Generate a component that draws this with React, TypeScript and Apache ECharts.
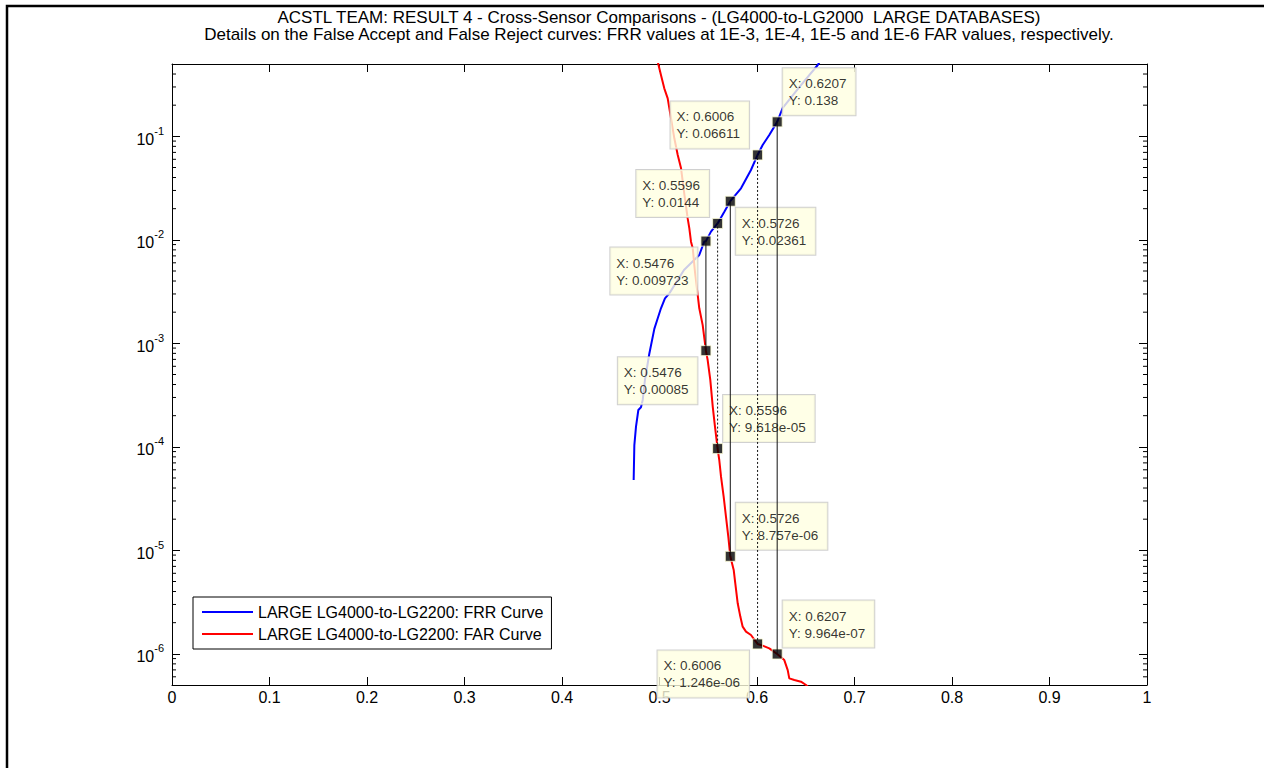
import { useEffect, useRef } from 'react';
import * as echarts from 'echarts';

const titleLines = [
  'ACSTL TEAM: RESULT 4 - Cross-Sensor Comparisons - (LG4000-to-LG2000  LARGE DATABASES)',
  'Details on the False Accept and False Reject curves: FRR values at 1E-3, 1E-4, 1E-5 and 1E-6 FAR values, respectively.',
];
const seriesNames = ['LARGE LG4000-to-LG2200: FRR Curve', 'LARGE LG4000-to-LG2200: FAR Curve'];

const xMin = 0;
const xMax = 1;
const xStep = 0.1;
const yMin = 5e-7;
const yMax = 0.5;

// FRR curve (blue)
const frrX = [0.4735, 0.4742, 0.4759, 0.4783, 0.481, 0.4828, 0.4851, 0.4895, 0.4947, 0.4982, 0.5015, 0.5056, 0.5101, 0.5251, 0.5408, 0.5459, 0.5476, 0.5528, 0.5596, 0.5665, 0.5726, 0.5836, 0.5938, 0.6006, 0.6058, 0.6126, 0.6207, 0.6264, 0.6451, 0.6623, 0.6656];
const frrY = [4.79e-5, 1.04e-4, 1.57e-4, 2.27e-4, 2.41e-4, 2.84e-4, 4.43e-4, 7.89e-4, 1.38e-3, 1.75e-3, 2.18e-3, 2.72e-3, 3.04e-3, 5.11e-3, 7.14e-3, 9.6e-3, 0.009723, 0.012, 0.0144, 0.0187, 0.02361, 0.0315, 0.0473, 0.06611, 0.0824, 0.103, 0.138, 0.188, 0.313, 0.489, 0.55];

// FAR curve (red)
const farX = [0.4979, 0.4988, 0.5015, 0.5049, 0.5084, 0.5118, 0.5152, 0.5187, 0.5221, 0.5256, 0.5289, 0.5306, 0.5323, 0.5341, 0.5364, 0.5392, 0.5408, 0.5443, 0.5476, 0.5494, 0.5521, 0.5546, 0.5569, 0.5596, 0.5613, 0.5631, 0.5658, 0.5682, 0.5706, 0.5726, 0.5761, 0.5777, 0.5802, 0.5829, 0.5853, 0.5887, 0.5938, 0.6006, 0.6058, 0.6126, 0.6207, 0.628, 0.6315, 0.6331, 0.6383, 0.6451, 0.6503, 0.6533];
const farY = [0.547, 0.497, 0.392, 0.291, 0.233, 0.149, 0.0957, 0.066, 0.0491, 0.0271, 0.0161, 0.01293, 0.0096, 0.00828, 0.00489, 0.00293, 0.00218, 0.0015, 0.00085, 6.9e-4, 4.43e-4, 2.45e-4, 1.57e-4, 9.618e-5, 7.46e-5, 5.15e-5, 3.3e-5, 2.11e-5, 1.35e-5, 8.757e-6, 6.46e-6, 4.81e-6, 3.08e-6, 2.29e-6, 1.83e-6, 1.64e-6, 1.52e-6, 1.246e-6, 1.2e-6, 1.13e-6, 9.964e-7, 8.7e-7, 6.97e-7, 5.79e-7, 5.58e-7, 5.38e-7, 5.0e-7, 4.7e-7];

// Data tips: thresholds with FRR and FAR values
const tipX = [0.5476, 0.5596, 0.5726, 0.6006, 0.6207];
const tipFRR = [0.009723, 0.0144, 0.02361, 0.06611, 0.138];
const tipFAR = [0.00085, 9.618e-5, 8.757e-6, 1.246e-6, 9.964e-7];

const FONT = '"Liberation Sans", Arial, Helvetica, sans-serif';

function fmtG(v: number): string {
  const e = Math.floor(Math.log10(Math.abs(v)) + 1e-12);
  const trim = (s: string) => (s.indexOf('.') >= 0 ? s.replace(/0+$/, '').replace(/\.$/, '') : s);
  if (e < -4 || e >= 5) {
    const m = trim((v / Math.pow(10, e)).toFixed(3));
    const ae = Math.abs(e);
    return `${m}e${e < 0 ? '-' : '+'}${ae < 10 ? '0' + ae : ae}`;
  }
  return trim(v.toPrecision(4));
}

export default function App() {
  const ref = useRef<HTMLDivElement>(null);
  useEffect(() => {
    if (!ref.current) return;
    const chart = echarts.init(ref.current, null, { renderer: 'svg' });

    const frrData = frrX.map((x, i) => [x, frrY[i]]);
    const farData = farX.map((x, i) => [x, farY[i]]);

    const minorVals: number[] = [];
    for (let e = -7; e <= 0; e++) {
      for (let k = 2; k <= 9; k++) {
        const v = k * Math.pow(10, e);
        if (v > yMin * 1.0001 && v < yMax * 0.9999) minorVals.push(v);
      }
    }

    const frrCorner = ['ll', 'ul', 'lr', 'ul', 'ur'];
    const farCorner = ['ll', 'ur', 'ur', 'll', 'ur'];
    const cornerLabel = (c: string) => {
      if (c === 'ur') return { position: [11, -1], align: 'left', verticalAlign: 'bottom' };
      if (c === 'ul') return { position: [-3, -1], align: 'right', verticalAlign: 'bottom' };
      if (c === 'lr') return { position: [11, 12], align: 'left', verticalAlign: 'top' };
      return { position: [-3, 12], align: 'right', verticalAlign: 'top' };
    };
    const tipText = (x: number, y: number) => `{t|X: ${fmtG(x)}}\n{t|Y: ${fmtG(y)}}`;
    const tipData: any[] = [];
    tipX.forEach((x, i) => {
      tipData.push({
        value: [x, tipFRR[i]],
        label: { ...cornerLabel(frrCorner[i]), formatter: tipText(x, tipFRR[i]) },
      });
      tipData.push({
        value: [x, tipFAR[i]],
        label: { ...cornerLabel(farCorner[i]), formatter: tipText(x, tipFAR[i]) },
      });
    });

    const linkTypes: any[] = ['solid', [2, 2], 'solid', [2, 2], 'solid'];
    const linkSeries = tipX.map((x, i) => ({
      type: 'line',
      name: 'link' + i,
      data: [[x, tipFAR[i]], [x, tipFRR[i]]],
      showSymbol: false,
      silent: true,
      z: 4,
      lineStyle: { color: '#111', width: 1, type: linkTypes[i] },
    }));

    const axisCommonX = {
      type: 'value',
      min: xMin,
      max: xMax,
      interval: xStep,
      axisLine: { onZero: false, lineStyle: { color: '#000', width: 1 } },
      axisTick: { inside: true, length: 8, lineStyle: { color: '#000', width: 1 } },
      splitLine: { show: false },
    };
    const axisCommonY = {
      type: 'log',
      logBase: 10,
      min: yMin,
      max: yMax,
      axisLine: { onZero: false, lineStyle: { color: '#000', width: 1 } },
      axisTick: { inside: true, length: 8, lineStyle: { color: '#000', width: 1 } },
      splitLine: { show: false },
      minorTick: { show: false },
    };

    chart.setOption({
      animation: false,
      backgroundColor: '#fff',
      grid: { left: 172, right: 117, top: 64, bottom: 83, containLabel: false },
      graphic: [
        {
          type: 'rect',
          shape: { x: 7, y: 6, width: 1400, height: 1000 },
          style: { fill: 'none', stroke: '#000', lineWidth: 2.5 },
          silent: true,
        },
        {
          type: 'text',
          x: 659,
          y: 9,
          style: {
            text: titleLines.join('\n'),
            fill: '#000',
            font: `17px ${FONT}`,
            textAlign: 'center',
            textVerticalAlign: 'top',
            lineHeight: 17,
          },
          silent: true,
        },
      ],
      legend: {
        data: seriesNames.map((n) => ({ name: n, icon: 'rect' })),
        orient: 'vertical',
        left: 193,
        top: 597,
        itemWidth: 51,
        itemHeight: 2,
        itemGap: 4,
        padding: [6, 8, 6, 9],
        borderColor: '#000',
        borderWidth: 1,
        borderRadius: 0,
        backgroundColor: '#fff',
        selectedMode: false,
        textStyle: { fontSize: 16, color: '#000', fontFamily: FONT, lineHeight: 18 },
      },
      xAxis: [
        {
          ...axisCommonX,
          position: 'bottom',
          axisLabel: { color: '#000', fontSize: 16, fontFamily: FONT, margin: 4 },
        },
        {
          ...axisCommonX,
          position: 'top',
          axisLabel: { show: false },
        },
      ],
      yAxis: [
        {
          ...axisCommonY,
          position: 'left',
          axisLabel: {
            margin: 8,
            formatter: (v: number) => {
              const e = Math.log10(v);
              const r = Math.round(e);
              if (Math.abs(e - r) > 1e-6) return '';
              return `{b|10}{s|${r}}`;
            },
            rich: {
              b: { fontSize: 16, fontFamily: FONT, color: '#000', lineHeight: 18, padding: [6, 0, 0, 0] },
              s: { fontSize: 11, fontFamily: FONT, color: '#000', lineHeight: 13, padding: [0, 0, 11, 0] },
            },
          },
        },
        {
          ...axisCommonY,
          position: 'right',
          axisLabel: { show: false },
        },
      ],
      series: [
        {
          type: 'custom',
          name: 'minorTicks',
          silent: true,
          z: 1,
          xAxisIndex: 0,
          yAxisIndex: 0,
          data: minorVals.map((v) => [0, v]),
          renderItem: (params: any, api: any) => {
            const y = api.coord([0, api.value(1)])[1];
            const cs = params.coordSys;
            return {
              type: 'group',
              children: [
                { type: 'line', shape: { x1: cs.x, y1: y, x2: cs.x + 4, y2: y }, style: { stroke: '#000', lineWidth: 1 } },
                { type: 'line', shape: { x1: cs.x + cs.width - 4, y1: y, x2: cs.x + cs.width, y2: y }, style: { stroke: '#000', lineWidth: 1 } },
              ],
            };
          },
        },
        {
          type: 'line',
          name: seriesNames[0],
          data: frrData,
          showSymbol: false,
          silent: true,
          z: 2,
          color: '#0000ff',
          lineStyle: { color: '#0000ff', width: 2 },
        },
        {
          type: 'line',
          name: seriesNames[1],
          data: farData,
          showSymbol: false,
          silent: true,
          z: 2,
          color: '#ff0000',
          lineStyle: { color: '#ff0000', width: 2 },
        },
        {
          type: 'scatter',
          name: 'tips',
          data: tipData,
          symbol: 'rect',
          symbolSize: 10,
          silent: true,
          z: 3,
          itemStyle: { color: '#000', borderColor: '#ffffd8', borderWidth: 1 },
          label: {
            show: true,
            color: '#000',
            fontSize: 13.5,
            fontFamily: FONT,
            lineHeight: 17,
            backgroundColor: '#ffffe1',
            borderColor: '#c4c4c4',
            borderWidth: 1,
            padding: [7, 9, 6, 6],
            rich: {
              t: { align: 'left', fontSize: 13.5, fontFamily: FONT, color: '#000', lineHeight: 17 },
            },
          },
          emphasis: { disabled: true },
        },
        ...linkSeries,
      ],
    });
    return () => chart.dispose();
  }, []);
  return (
    <div
      ref={ref}
      style={{ position: 'fixed', left: 0, top: 0, width: 1264, height: 768, background: '#fff' }}
    />
  );
}
